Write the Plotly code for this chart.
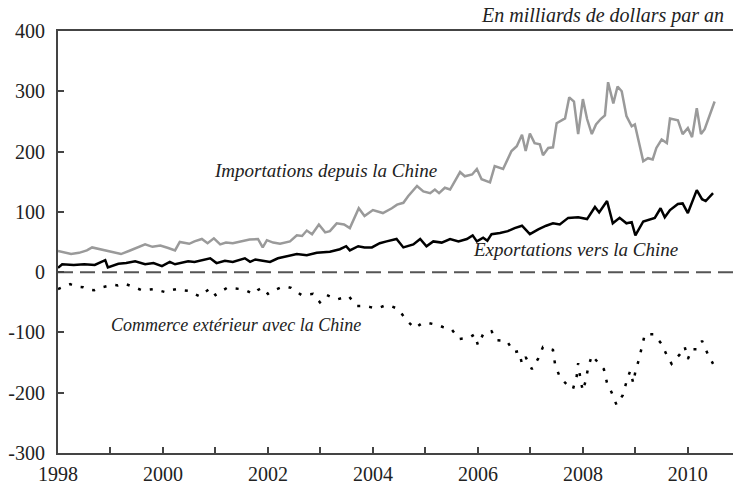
import plotly.graph_objects as go

# Imports from China (USD bn, annualised)
imp_x = [1998.00,1998.10,1998.25,1998.40,1998.55,1998.65,1998.80,1998.95,1999.10,1999.20,1999.35,1999.50,1999.66,1999.80,1999.95,
         2000.10,2000.23,2000.32,2000.50,2000.60,2000.74,2000.85,2000.97,2001.09,2001.20,2001.33,2001.50,2001.65,2001.81,2001.90,2001.98,
         2002.10,2002.23,2002.42,2002.55,2002.65,2002.74,2002.84,2002.97,2003.09,2003.18,2003.31,2003.45,2003.56,2003.73,2003.84,
         2004.00,2004.19,2004.36,2004.46,2004.58,2004.67,2004.84,2004.96,2005.09,2005.18,2005.26,2005.37,2005.47,2005.66,2005.75,2005.89,2005.98,
         2006.07,2006.23,2006.32,2006.48,2006.64,2006.74,2006.84,2006.91,2006.99,2007.08,2007.18,2007.24,2007.34,2007.43,2007.50,2007.66,2007.74,2007.83,2007.91,
         2008.00,2008.08,2008.17,2008.25,2008.34,2008.42,2008.48,2008.58,2008.66,2008.74,2008.83,2008.93,2008.99,
         2009.15,2009.24,2009.33,2009.40,2009.50,2009.60,2009.66,2009.81,2009.90,2010.00,2010.08,2010.17,2010.25,2010.32,2010.51]
imp_y = [35,33,30,32,36,41,38,36,33,30,35,40,46,42,44,
         40,36,50,47,51,55,48,56,46,49,48,51,54,55,41,53,
         49,47,51,61,60,69,63,79,66,68,81,79,73,106,93,
         103,98,106,112,115,126,143,134,131,137,131,140,137,166,159,162,171,
         154,149,176,171,201,209,228,201,230,214,212,194,206,207,247,255,290,283,229,
         287,254,229,245,254,260,315,280,308,300,259,242,245,
         184,189,187,206,220,214,255,252,229,239,224,272,229,237,283]

# Exports to China
exp_x = [1998.00,1998.08,1998.30,1998.50,1998.70,1998.90,1998.95,1999.15,1999.30,1999.47,1999.66,1999.82,1999.98,
         2000.13,2000.23,2000.48,2000.60,2000.74,2000.90,2001.02,2001.18,2001.33,2001.56,2001.66,2001.76,2001.90,
         2002.04,2002.19,2002.38,2002.55,2002.74,2002.93,2003.18,2003.37,2003.49,2003.56,2003.72,2003.84,2003.98,
         2004.13,2004.26,2004.45,2004.58,2004.77,2004.90,2005.02,2005.15,2005.31,2005.47,2005.63,2005.79,2005.90,2005.98,
         2006.10,2006.18,2006.26,2006.42,2006.57,2006.70,2006.84,2006.99,2007.15,2007.30,2007.43,2007.56,2007.72,2007.91,
         2008.08,2008.23,2008.31,2008.46,2008.57,2008.70,2008.83,2008.93,2009.00,2009.15,2009.28,2009.37,2009.48,2009.56,
         2009.66,2009.81,2009.90,2010.00,2010.17,2010.27,2010.34,2010.48]
exp_y = [7,13,12,13,12,20,8,14,15,18,13,15,10,
         17,13,18,17,20,23,15,19,17,23,17,21,19,
         17,23,27,30,28,32,34,38,43,36,43,41,41,
         48,51,55,41,46,55,43,51,49,55,51,55,61,51,
         57,52,63,65,68,73,77,63,71,77,81,79,90,91,
         88,108,99,118,81,90,81,83,61,84,88,90,106,91,
         103,113,114,98,136,121,118,131]

# Trade balance with China
bal_x = [1998.00,1998.10,1998.23,1998.35,1998.48,1998.60,1998.69,1998.80,1998.93,1999.05,1999.14,1999.26,1999.39,1999.50,1999.60,1999.72,1999.83,1999.95,
         2000.04,2000.15,2000.27,2000.38,2000.48,2000.60,2000.70,2000.80,2000.90,2001.00,2001.10,2001.22,2001.35,2001.47,2001.60,2001.72,2001.80,2001.89,
         2002.00,2002.12,2002.23,2002.35,2002.44,2002.55,2002.64,2002.75,2002.86,2002.99,2003.12,2003.22,2003.33,2003.45,2003.54,2003.69,2003.85,2003.95,
         2004.04,2004.15,2004.24,2004.36,2004.48,2004.64,2004.80,2004.93,2005.04,2005.14,2005.25,2005.33,2005.50,2005.64,2005.83,2005.94,
         2006.00,2006.11,2006.26,2006.36,2006.55,2006.69,2006.78,2006.84,2006.91,2007.03,2007.15,2007.24,2007.43,2007.47,2007.56,2007.70,2007.81,2007.88,2007.91,2007.96,
         2008.00,2008.05,2008.10,2008.17,2008.27,2008.40,2008.46,2008.55,2008.64,2008.76,2008.83,2008.90,2008.96,
         2009.00,2009.07,2009.12,2009.18,2009.35,2009.50,2009.60,2009.69,2009.85,2009.94,2010.00,2010.08,2010.17,2010.27,2010.38,2010.48]
bal_y = [-28,-25,-20,-24,-25,-29,-30,-26,-23,-21,-22,-19,-23,-26,-30,-29,-28,-31,
         -33,-30,-28,-30,-31,-36,-40,-33,-27,-38,-32,-26,-27,-28,-31,-36,-30,-26,
         -36,-30,-26,-24,-26,-32,-38,-37,-36,-50,-38,-42,-45,-42,-40,-56,-56,-58,
         -60,-58,-55,-57,-61,-80,-93,-85,-84,-86,-88,-91,-95,-111,-109,-103,
         -121,-101,-98,-113,-114,-133,-131,-152,-141,-161,-143,-124,-129,-153,-174,-187,-194,-174,-151,-181,
         -197,-181,-159,-138,-148,-161,-184,-200,-220,-204,-182,-164,-184,
         -165,-144,-123,-103,-103,-119,-138,-152,-136,-124,-144,-128,-128,-114,-136,-152]

year_ticks = list(range(1998, 2011))
year_labels = [str(y) if y % 2 == 0 else "" for y in year_ticks]
y_ticks = [-300, -200, -100, 0, 100, 200, 300, 400]
y_labels = [str(v) for v in y_ticks]

SERIF = "Liberation Serif, Times New Roman, serif"

fig = go.Figure()
fig.add_trace(go.Scatter(x=[1998, 2010.86], y=[0, 0], mode="lines",
                         line=dict(color="#555555", width=2, dash="15px,7px"),
                         hoverinfo="skip", showlegend=False))
fig.add_trace(go.Scatter(x=imp_x, y=imp_y, mode="lines", name="Importations depuis la Chine",
                         line=dict(color="#9a9a9a", width=2.5), showlegend=False))
fig.add_trace(go.Scatter(x=exp_x, y=exp_y, mode="lines", name="Exportations vers la Chine",
                         line=dict(color="#000000", width=2.5), showlegend=False))
fig.add_trace(go.Scatter(x=bal_x, y=bal_y, mode="lines", name="Commerce extérieur avec la Chine",
                         line=dict(color="#000000", width=2.5, dash="3px,9px"), showlegend=False))

ann_font = dict(family=SERIF, size=19, color="#222222")
fig.add_annotation(x=2003.1, y=168, text="<i>Importations depuis la Chine</i>", showarrow=False, font=ann_font)
fig.add_annotation(x=2007.85, y=38, text="<i>Exportations vers la Chine</i>", showarrow=False, font=ann_font)
fig.add_annotation(x=2001.4, y=-88, text="<i>Commerce extérieur avec la Chine</i>", showarrow=False,
                   font=dict(family=SERIF, size=18, color="#222222"))
fig.add_annotation(xref="x", yref="paper", x=2008.38, y=1.0, yanchor="bottom", yshift=3,
                   borderpad=0, text="<i>En milliards de dollars par an</i>", showarrow=False,
                   font=dict(family=SERIF, size=20, color="#222222"))

fig.update_layout(
    width=733, height=498,
    margin=dict(l=58, r=0, t=31, b=45),
    paper_bgcolor="white", plot_bgcolor="white",
    font=dict(family=SERIF, size=20, color="#222222"),
    xaxis=dict(range=[1998, 2010.86], tickvals=year_ticks, ticktext=year_labels,
               showline=True, linecolor="#444444", linewidth=2, mirror=True,
               ticks="inside", ticklen=6, tickcolor="#444444", tickwidth=1.5,
               showgrid=False, zeroline=False, automargin=False, ticklabelstandoff=2),
    yaxis=dict(range=[-300, 400], tickvals=y_ticks, ticktext=y_labels,
               showline=True, linecolor="#444444", linewidth=2,
               ticks="inside", ticklen=6, tickcolor="#444444", tickwidth=1.5,
               showgrid=False, zeroline=False, ticklabelstandoff=7, automargin=False),
)

# remove the default 8px page margin so the figure fills the window exactly
fig.write_html("out.html", config={"displayModeBar": False},
               post_script="document.body.style.margin='0px';")
